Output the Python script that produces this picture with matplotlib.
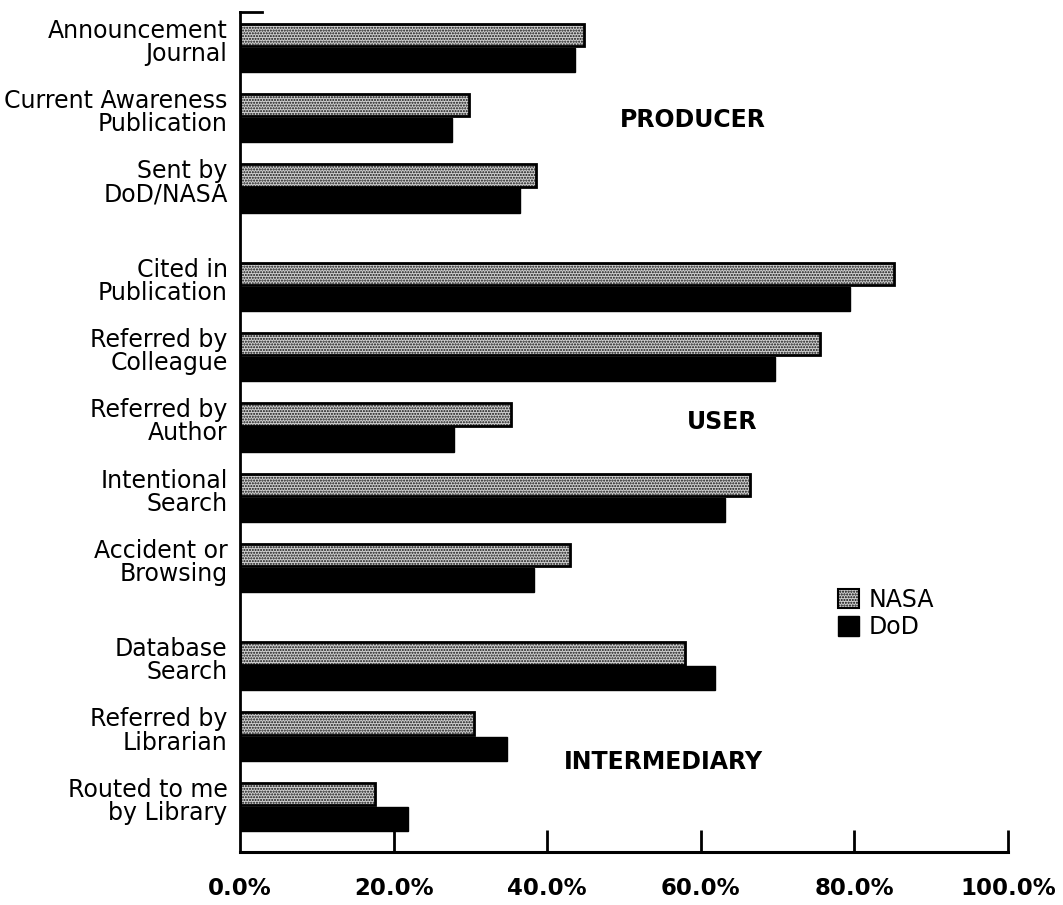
import numpy as np
import matplotlib
matplotlib.use('Agg')
import matplotlib.pyplot as plt

# Data (percent)
categories = ['Announcement\nJournal', 'Current Awareness\nPublication', 'Sent by\nDoD/NASA',
              'Cited in\nPublication', 'Referred by\nColleague', 'Referred by\nAuthor',
              'Intentional\nSearch', 'Accident or\nBrowsing',
              'Database\nSearch', 'Referred by\nLibrarian', 'Routed to me\nby Library']
nasa = [44.8, 29.8, 38.6, 85.1, 75.5, 35.3, 66.4, 42.9, 57.9, 30.5, 17.6]
dod = [43.6, 27.6, 36.5, 79.4, 69.7, 27.9, 63.1, 38.3, 61.8, 34.7, 21.9]
groups = ['PRODUCER', 'USER', 'INTERMEDIARY']
group_sizes = [3, 5, 3]
xticks = [0, 20, 40, 60, 80, 100]
xticklabels = ['0.0%', '20.0%', '40.0%', '60.0%', '80.0%', '100.0%']

plt.rcParams['font.family'] = ['DejaVu Sans']

# bar positions, extra gap between groups
ypos = []
off = 0.
for g, n in enumerate(group_sizes):
  for k in range(n):
    ypos.append(off + k)
  off += n + 0.4
ypos = np.array(ypos)

fig = plt.figure(figsize=(10.63, 9.05), dpi=100)
ax = fig.add_axes([0.2258, 0.0586, 0.7225, 0.928])

hn = 0.32
hd = 0.345
# NASA: stippled fill, then black outline
ax.barh(ypos - 0.175, nasa, height=hn, color='#cfcfcf', edgecolor='#101010', linewidth=0,
        hatch='......')
ax.barh(ypos - 0.175, nasa, height=hn, fill=False, edgecolor='black', linewidth=2.0)
ax.barh(ypos + 0.18, dod, height=hd, color='black', edgecolor='black', linewidth=1.0)

ax.set_xlim(0, 100)
ax.set_ylim(11.45, -0.5)

ax.spines['top'].set_visible(False)
ax.spines['right'].set_visible(False)
ax.spines['left'].set_linewidth(2)
ax.spines['bottom'].set_linewidth(2.2)

ax.set_xticks(xticks)
ax.set_xticklabels(xticklabels, fontsize=16.5, fontweight='bold')
ax.tick_params(axis='x', direction='in', length=16, width=2, pad=18)
ax.xaxis.get_major_ticks()[0].tick1line.set_visible(False)
# category labels sit a little above the pair centre
ax.set_yticks(ypos - 0.1)
ax.set_yticklabels(categories, fontsize=17, linespacing=0.95)
ax.tick_params(axis='y', length=0, pad=9)

# small stub at top of the y axis
ax.plot([0, 2.8], [-0.5, -0.5], color='black', lw=2, clip_on=False)

# group labels
group_x = [59.0, 62.8, 55.1]
group_y = [1.03, 5.33, 10.17]
for i in range(len(groups)):
  ax.text(group_x[i], group_y[i], groups[i], fontsize=17, fontweight='bold', ha='center', va='center')

# legend handles
p1 = plt.Rectangle((0, 0), 1, 1, facecolor='#cfcfcf', edgecolor='black', linewidth=1.5, hatch='......')
p2 = plt.Rectangle((0, 0), 1, 1, facecolor='black', edgecolor='black')
leg = ax.legend([p1, p2], ['NASA', 'DoD'], loc='upper left', bbox_to_anchor=(0.7685, 0.374),
                bbox_transform=fig.transFigure, frameon=False, fontsize=17, handlelength=0.9,
                handleheight=0.9, handletextpad=0.4, labelspacing=0.15)

plt.savefig('out.png', dpi=100)
plt.close()
